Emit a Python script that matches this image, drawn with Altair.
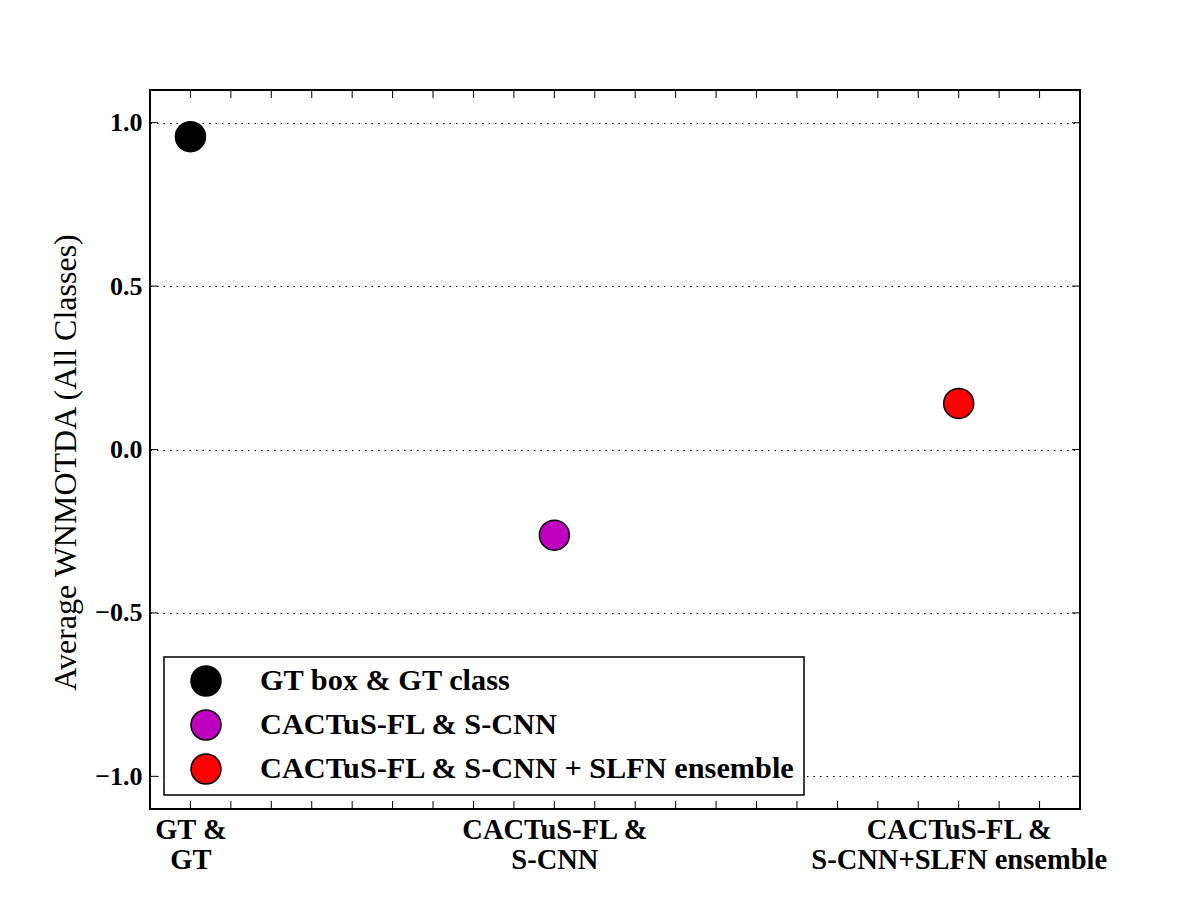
import altair as alt
import pandas as pd

# ---- data ----
methods = ["GT box & GT class", "CACTuS-FL & S-CNN", "CACTuS-FL & S-CNN + SLFN ensemble"]
x_pos = [0.5, 5.0, 10.0]
scores = [0.957, -0.262, 0.141]
colors = ["#000000", "#bf00bf", "#ff0000"]

x_label_values = [0.5, 5.0, 10.0]
x_label_lines = [["GT &", "GT"], ["CACTuS-FL &", "S-CNN"], ["CACTuS-FL &", "S-CNN+SLFN ensemble"]]
x_minor_ticks = [0.5, 1.0, 1.5, 2.0, 2.5, 3.0, 3.5, 4.0, 4.5, 5.0, 5.5,
                 6.0, 6.5, 7.0, 7.5, 8.0, 8.5, 9.0, 9.5, 10.0, 10.5, 11.0]
y_ticks = [-1.0, -0.5, 0.0, 0.5, 1.0]
x_domain = [0, 11.5]
y_domain = [-1.1, 1.1]
y_title = "Average WNMOTDA (All Classes)"

W, H = 930, 719
FONT = "Liberation Serif"
TICK = 8

# label expression built from the lists
def js_arr(lines):
    return "[" + ", ".join("'" + s + "'" for s in lines) + "]"

label_expr = js_arr(x_label_lines[-1])
for v, lines in reversed(list(zip(x_label_values[:-1], x_label_lines[:-1]))):
    label_expr = f"datum.value == {v} ? {js_arr(lines)} : ({label_expr})"

X = alt.X(
    "xv:Q",
    scale=alt.Scale(domain=x_domain, nice=False, zero=False),
    axis=alt.Axis(
        values=x_label_values, labelExpr=label_expr, title=None, grid=False,
        ticks=False, domain=False, labelFont=FONT, labelFontWeight="bold",
        labelFontSize=28.5, labelLineHeight=30, labelPadding=6, labelColor="black",
        labelBaseline="top", labelFlush=False, labelOverlap=False, labelLimit=1000,
    ),
)
Y = alt.Y(
    "yv:Q",
    scale=alt.Scale(domain=y_domain, nice=False, zero=False),
    axis=alt.Axis(
        values=y_ticks, format=".1f", title=y_title, grid=True,
        gridColor="black", gridDash=[1.5, 5], gridWidth=1, gridOpacity=1,
        ticks=False, domain=False, labelFont=FONT, labelFontWeight="bold",
        labelFontSize=26, labelPadding=8, labelColor="black",
        titleFont=FONT, titleFontWeight="normal", titleFontSize=32,
        titleColor="black", titleX=-85, titleY=372, titleAngle=270,
        titleAlign="center", titleBaseline="middle", titleLimit=1000,
    ),
)

df = pd.DataFrame({"method": methods, "xv": x_pos, "yv": scores})
xt = pd.DataFrame({"xv": x_minor_ticks})
yt = pd.DataFrame({"yv": y_ticks})

points = alt.Chart(df).mark_point(
    shape="circle", filled=True, size=900, stroke="black", strokeWidth=1.5, opacity=1
).encode(
    x=X, y=Y,
    fill=alt.Fill(
        "method:N",
        scale=alt.Scale(domain=methods, range=colors),
        sort=methods,
        legend=alt.Legend(
            title=None, orient="bottom-left", offset=14, padding=8,
            rowPadding=8, symbolType="circle", symbolSize=900,
            symbolStrokeColor="black", symbolStrokeWidth=1.5,
            symbolOffset=18, labelOffset=38, labelLimit=1000,
            labelFont=FONT, labelFontWeight="bold", labelFontSize=30.3,
            labelColor="black", fillColor="white", strokeColor="black",
            cornerRadius=0,
        ),
    ),
)

rule = dict(color="black", strokeWidth=1)
bottom_ticks = alt.Chart(xt).mark_rule(**rule).encode(x=X, y=alt.value(H), y2=alt.value(H - TICK))
top_ticks = alt.Chart(xt).mark_rule(**rule).encode(x=X, y=alt.value(0), y2=alt.value(TICK))
left_ticks = alt.Chart(yt).mark_rule(**rule).encode(y=Y, x=alt.value(0), x2=alt.value(TICK))
right_ticks = alt.Chart(yt).mark_rule(**rule).encode(y=Y, x=alt.value(W), x2=alt.value(W - TICK))

chart = alt.layer(bottom_ticks, top_ticks, left_ticks, right_ticks, points).properties(
    width=W, height=H,
    autosize=alt.AutoSizeParams(type="none"),
    padding={"left": 150, "top": 90, "right": 120, "bottom": 91},
    background="white",
).configure_view(
    stroke="black", strokeWidth=2
).configure_legend(
    strokeWidth=1.5
)

chart.save("out.html", embed_options={"renderer": "svg", "actions": False})
